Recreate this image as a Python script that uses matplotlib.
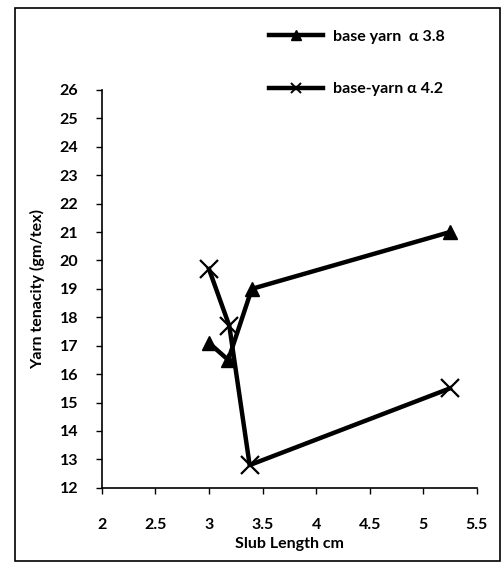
import matplotlib.pyplot as plt
from matplotlib.patches import Rectangle
from matplotlib.lines import Line2D

plt.rcParams['font.family'] = ['Lato', 'DejaVu Sans']

# slub length (cm) vs yarn tenacity (gm/tex)
slub_38 = [3.0, 3.18, 3.4, 5.25]
tenacity_38 = [17.1, 16.5, 19.0, 21.0]

slub_42 = [3.0, 3.19, 3.38, 5.25]
tenacity_42 = [19.7, 17.7, 12.8, 15.5]

x_ticks = [2, 2.5, 3, 3.5, 4, 4.5, 5, 5.5]
y_ticks = list(range(12, 27))
labels = ['base yarn  \u03b1 3.8', 'base-yarn \u03b1 4.2']

fig = plt.figure(figsize=(5.04, 5.62), dpi=100)
ax = fig.add_axes([0.202, 0.132, 0.744, 0.708])

ax.plot(slub_38, tenacity_38, color='black', lw=3.2, marker='^', ms=10,
        mfc='black', mec='black')
ax.plot(slub_42, tenacity_42, color='black', lw=3.2, marker='x', ms=13,
        mew=1.6)

ax.set_xlim(2, 5.5)
ax.set_ylim(12, 26)
ax.set_xticks(x_ticks)
ax.set_xticklabels(['2', '2.5', '3', '3.5', '4', '4.5', '5', '5.5'])
ax.set_yticks(y_ticks)
ax.tick_params(direction='out', length=4, width=1, labelsize=11.5)
ax.tick_params(axis='x', pad=18)
ax.tick_params(axis='y', pad=13)
for lab in ax.get_xticklabels() + ax.get_yticklabels():
    lab.set_fontweight('bold')

for side in ['top', 'right']:
    ax.spines[side].set_visible(False)
ax.spines['left'].set_linewidth(1.2)
ax.spines['bottom'].set_linewidth(1.2)

ax.set_xlabel('Slub Length cm', fontsize=11.5, fontweight='bold', labelpad=3)
ax.set_ylabel('Yarn tenacity (gm/tex)', fontsize=11.5, fontweight='bold', labelpad=10)

# legend handles carry smaller markers than the plotted series
handles = [
    Line2D([], [], color='black', lw=3.2, marker='^', ms=7),
    Line2D([], [], color='black', lw=3.2, marker='x', ms=7, mew=1.4),
]
fig.legend(handles, labels, loc='upper left', bbox_to_anchor=(0.505, 0.973),
           frameon=False, handlelength=3.4, handletextpad=0.6, labelspacing=2.4,
           prop={'weight': 'bold', 'size': 11.5})

# outer frame
fig.patches.append(Rectangle((0.03, 0.001), 0.962, 0.985, transform=fig.transFigure,
                             fill=False, edgecolor='black', lw=1.2))

fig.savefig('out.png', dpi=100)
